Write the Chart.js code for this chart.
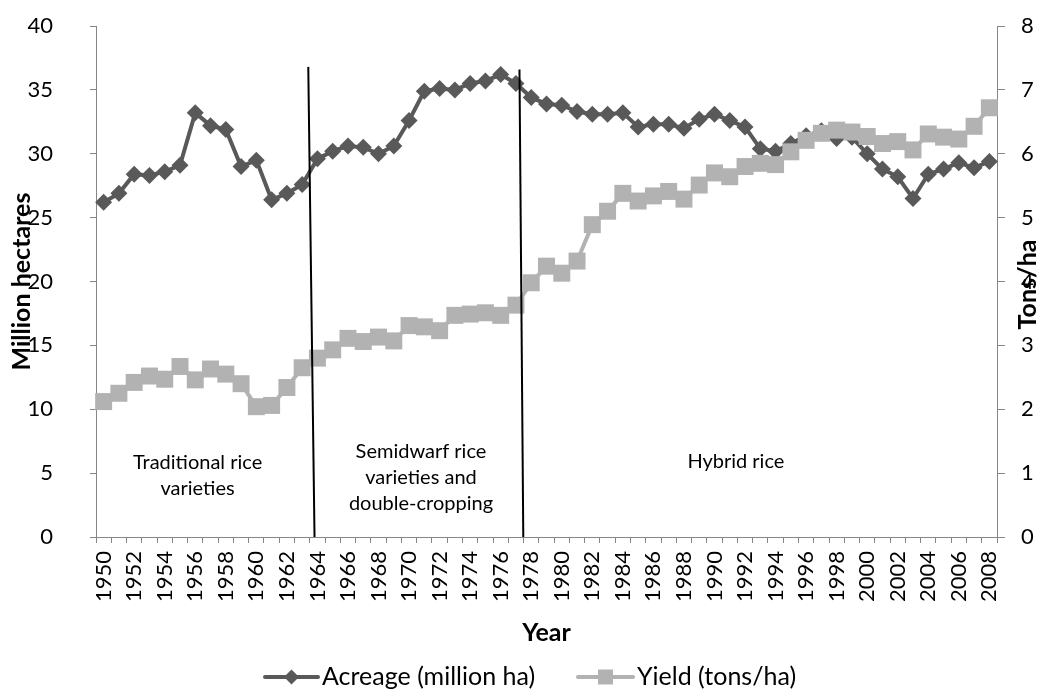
<!DOCTYPE html>
<html>
<head>
<meta charset="utf-8">
<script src="https://cdn.jsdelivr.net/npm/chart.js@4.4.1/dist/chart.umd.min.js"></script>
<style>
html,body{margin:0;padding:0;background:#ffffff;}
#wrap{width:1039px;height:691px;position:relative;}
</style>
</head>
<body>
<div id="wrap"><canvas id="c" width="1039" height="691"></canvas></div>
<script>
// ---- data ----
const years = ["1950","1951","1952","1953","1954","1955","1956","1957","1958","1959",
  "1960","1961","1962","1963","1964","1965","1966","1967","1968","1969",
  "1970","1971","1972","1973","1974","1975","1976","1977","1978","1979",
  "1980","1981","1982","1983","1984","1985","1986","1987","1988","1989",
  "1990","1991","1992","1993","1994","1995","1996","1997","1998","1999",
  "2000","2001","2002","2003","2004","2005","2006","2007","2008"];

const acreage = [26.2,26.9,28.4,28.3,28.6,29.1,33.2,32.2,31.9,29.0,
  29.5,26.4,26.9,27.6,29.6,30.2,30.6,30.5,30.0,30.6,
  32.6,34.9,35.1,35.0,35.5,35.7,36.2,35.5,34.4,33.9,
  33.8,33.3,33.1,33.1,33.2,32.1,32.3,32.3,32.0,32.7,
  33.1,32.6,32.1,30.4,30.2,30.8,31.4,31.8,31.2,31.3,
  30.0,28.8,28.2,26.5,28.4,28.8,29.3,28.9,29.4];

const yieldTons = [2.12,2.25,2.42,2.52,2.47,2.67,2.46,2.63,2.55,2.40,
  2.04,2.06,2.34,2.65,2.80,2.93,3.11,3.06,3.13,3.07,
  3.31,3.29,3.23,3.47,3.49,3.51,3.47,3.63,3.98,4.24,
  4.13,4.32,4.89,5.10,5.38,5.26,5.34,5.41,5.29,5.51,
  5.70,5.64,5.80,5.85,5.83,6.03,6.21,6.32,6.37,6.34,
  6.27,6.16,6.19,6.06,6.31,6.26,6.23,6.43,6.72];

const seriesNames = ["Acreage (million ha)", "Yield (tons/ha)"];
const leftTitle = "Million hectares";
const rightTitle = "Tons/ha";
const xTitle = "Year";
const periodTexts = [
  ["Traditional rice", "varieties"],
  ["Semidwarf rice", "varieties and", "double-cropping"],
  ["Hybrid rice"]
];

// ---- styling / placement (not data) ----
const DARK = "#595959";
const LIGHT = "#b2b2b2";
const AXIS = "#868686";
const FONT = "Lato, 'Open Sans', sans-serif";

// divider lines in (category index, left-axis value) space
const dividers = [
  {topIdx: 13.40, topVal: 36.8, botIdx: 13.81},
  {topIdx: 27.23, topVal: 36.6, botIdx: 27.48}
];
// period label anchors (category index, left-axis value of first line)
const periodAnchors = [
  {idx: 6.15, val: 5.79},
  {idx: 20.78, val: 6.65},
  {idx: 41.4, val: 5.87}
];

const overlay = {
  id: 'overlay',
  afterDatasetsDraw(chart) {
    const {ctx, scales} = chart;
    const x = scales.x, y = scales.y;
    ctx.save();
    ctx.strokeStyle = "#000";
    ctx.lineWidth = 2;
    dividers.forEach(d => {
      ctx.beginPath();
      ctx.moveTo(x.getPixelForValue(d.topIdx), y.getPixelForValue(d.topVal));
      ctx.lineTo(x.getPixelForValue(d.botIdx), y.getPixelForValue(0));
      ctx.stroke();
    });
    ctx.fillStyle = "#000";
    ctx.font = "20px " + FONT;
    ctx.textAlign = "center";
    ctx.textBaseline = "middle";
    periodTexts.forEach((lines, k) => {
      const a = periodAnchors[k];
      const cx = x.getPixelForValue(a.idx);
      const cy = y.getPixelForValue(a.val);
      lines.forEach((t, i) => ctx.fillText(t, cx, cy + i * 26));
    });
    ctx.restore();
  },
  afterDraw(chart) {
    const {ctx, chartArea} = chart;
    ctx.save();
    ctx.fillStyle = "#000";
    ctx.font = "bold 25px " + FONT;
    ctx.textAlign = "center";
    ctx.textBaseline = "middle";
    ctx.translate(1028, (chartArea.top + chartArea.bottom) / 2 + 3);
    ctx.rotate(-Math.PI / 2);
    ctx.fillText(rightTitle, 0, 0);
    ctx.restore();

    ctx.save();
    const ly = 677;
    ctx.font = "25px " + FONT;
    ctx.textBaseline = "middle";
    ctx.textAlign = "left";
    const items = [
      {x0: 265, x1: 318, color: DARK, shape: 'diamond', name: seriesNames[0]},
      {x0: 578, x1: 633, color: LIGHT, shape: 'square', name: seriesNames[1]}
    ];
    items.forEach(it => {
      ctx.strokeStyle = it.color;
      ctx.lineWidth = 4;
      ctx.lineCap = 'round';
      ctx.beginPath();
      ctx.moveTo(it.x0, ly);
      ctx.lineTo(it.x1, ly);
      ctx.stroke();
      const cx = (it.x0 + it.x1) / 2;
      ctx.fillStyle = it.color;
      ctx.beginPath();
      if (it.shape === 'diamond') {
        const r = 7.5;
        ctx.moveTo(cx - r, ly); ctx.lineTo(cx, ly - r); ctx.lineTo(cx + r, ly); ctx.lineTo(cx, ly + r);
        ctx.closePath();
      } else {
        ctx.rect(cx - 7.5, ly - 7.5, 15, 15);
      }
      ctx.fill();
      ctx.fillStyle = "#000";
      ctx.fillText(it.name, it.x1 + 4, ly);
    });
    ctx.restore();
  }
};

const tickFont = {family: FONT, size: 22};
const noVPad = s => { s.paddingTop = 0; s.paddingBottom = 0; };

new Chart(document.getElementById('c'), {
  type: 'line',
  data: {
    labels: years,
    datasets: [
      {
        label: seriesNames[0],
        data: acreage,
        yAxisID: 'y',
        borderColor: DARK,
        backgroundColor: DARK,
        borderWidth: 4,
        pointStyle: 'rectRot',
        pointRadius: 8.5,
        pointHoverRadius: 8.5,
        pointBorderWidth: 0,
        pointBackgroundColor: DARK,
        tension: 0,
        order: 2
      },
      {
        label: seriesNames[1],
        data: yieldTons,
        yAxisID: 'y1',
        borderColor: LIGHT,
        backgroundColor: LIGHT,
        borderWidth: 4,
        pointStyle: 'rect',
        pointRadius: 12,
        pointHoverRadius: 12,
        pointBorderWidth: 0,
        pointBackgroundColor: LIGHT,
        tension: 0,
        order: 1
      }
    ]
  },
  options: {
    responsive: false,
    animation: false,
    events: [],
    layout: {padding: {top: 26, bottom: 43, left: 0, right: 0}},
    plugins: {legend: {display: false}, tooltip: {enabled: false}},
    scales: {
      x: {
        type: 'category',
        offset: true,
        grid: {display: true, drawOnChartArea: false, offset: true, tickLength: 6, color: AXIS, lineWidth: 1},
        border: {display: true, color: AXIS, width: 1},
        ticks: {
          autoSkip: false, maxRotation: 90, minRotation: 90, padding: 8,
          color: '#000', font: tickFont,
          callback: (v, i) => (i % 2 === 0 ? years[i] : '')
        },
        title: {display: true, text: xTitle, color: '#000', font: {family: FONT, size: 25, weight: 'bold'}, padding: {top: 0, bottom: 0}},
        afterFit: s => { s.height = 111; }
      },
      y: {
        position: 'left',
        min: 0, max: 40,
        grid: {display: true, drawOnChartArea: false, tickLength: 6, color: AXIS},
        border: {display: true, color: AXIS, width: 1},
        ticks: {stepSize: 5, padding: 37, color: '#000', font: tickFont},
        title: {display: true, text: leftTitle, color: '#000', font: {family: FONT, size: 25, weight: 'bold'}, padding: {top: 7, bottom: 0}},
        afterFit: s => { s.width = 96; noVPad(s); }
      },
      y1: {
        position: 'right',
        min: 0, max: 8,
        grid: {display: true, drawOnChartArea: false, tickLength: 8, color: AXIS},
        border: {display: true, color: AXIS, width: 1},
        ticks: {stepSize: 1, padding: 16, color: '#000', font: tickFont},
        afterFit: s => { s.width = 42; noVPad(s); }
      }
    }
  },
  plugins: [overlay]
});
</script>
</body>
</html>
